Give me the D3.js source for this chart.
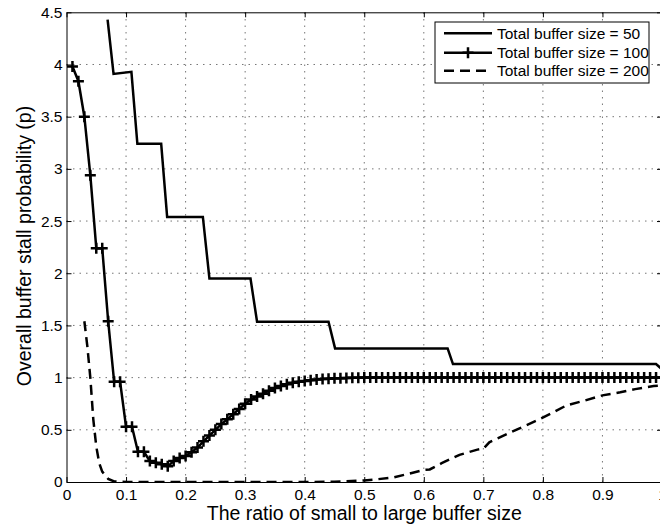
<!DOCTYPE html>
<html>
<head>
<meta charset="utf-8">
<script src="https://cdn.jsdelivr.net/npm/d3@7"></script>
<style>
body { margin: 0; background: #fff; }
svg text { font-family: "Liberation Sans", Arial, Helvetica, sans-serif; fill: #000; }
.grid line { stroke: #777; stroke-width: 1; stroke-dasharray: 1.5,5; }
.axis path, .axis line { stroke: #000; stroke-width: 1; }
</style>
</head>
<body>
<svg id="chart" width="660" height="527"></svg>
<script>
// Ticks
var xTicks = [0, 0.1, 0.2, 0.3, 0.4, 0.5, 0.6, 0.7, 0.8, 0.9, 1];
var xTickLabels = ["0", "0.1", "0.2", "0.3", "0.4", "0.5", "0.6", "0.7", "0.8", "0.9", "1"];
var yTicks = [0, 0.5, 1, 1.5, 2, 2.5, 3, 3.5, 4, 4.5];
var yTickLabels = ["0", "0.5", "1", "1.5", "2", "2.5", "3", "3.5", "4", "4.5"];

var seriesNames = ["Total buffer size = 50", "Total buffer size = 100", "Total buffer size = 200"];

// Total buffer size = 50 (step curve)
var ratio50 = [0.069, 0.079, 0.109, 0.119, 0.159, 0.169, 0.229, 0.240, 0.309, 0.320, 0.440, 0.451, 0.640, 0.649, 0.990, 1.000];
var stall50 = [4.43, 3.91, 3.93, 3.24, 3.24, 2.54, 2.54, 1.95, 1.95, 1.535, 1.535, 1.28, 1.28, 1.13, 1.13, 1.08];

// Total buffer size = 100 (with + markers)
var ratio100 = [0.01, 0.02, 0.03, 0.04, 0.05, 0.06, 0.07, 0.08, 0.09, 0.10,
  0.11, 0.12, 0.13, 0.14, 0.15, 0.16, 0.17, 0.18, 0.19, 0.20,
  0.21, 0.22, 0.23, 0.24, 0.25, 0.26, 0.27, 0.28, 0.29, 0.30,
  0.31, 0.32, 0.33, 0.34, 0.35, 0.36, 0.37, 0.38, 0.39, 0.40,
  0.41, 0.42, 0.43, 0.44, 0.45, 0.46, 0.47, 0.48, 0.49, 0.50,
  0.51, 0.52, 0.53, 0.54, 0.55, 0.56, 0.57, 0.58, 0.59, 0.60,
  0.61, 0.62, 0.63, 0.64, 0.65, 0.66, 0.67, 0.68, 0.69, 0.70,
  0.71, 0.72, 0.73, 0.74, 0.75, 0.76, 0.77, 0.78, 0.79, 0.80,
  0.81, 0.82, 0.83, 0.84, 0.85, 0.86, 0.87, 0.88, 0.89, 0.90,
  0.91, 0.92, 0.93, 0.94, 0.95, 0.96, 0.97, 0.98, 0.99, 1.00];
var stall100 = [3.98, 3.84, 3.50, 2.94, 2.24, 2.24, 1.54, 0.96, 0.96, 0.53,
  0.53, 0.29, 0.29, 0.20, 0.185, 0.17, 0.15, 0.20, 0.23, 0.25,
  0.285, 0.33, 0.39, 0.445, 0.50, 0.555, 0.60, 0.65, 0.70, 0.75,
  0.79, 0.82, 0.845, 0.875, 0.90, 0.92, 0.937, 0.95, 0.96, 0.968,
  0.975, 0.981, 0.986, 0.99, 0.993, 0.995, 0.997, 0.998, 0.999, 1.0,
  1.0, 1.0, 1.0, 1.0, 1.0, 1.0, 1.0, 1.0, 1.0, 1.0,
  1.0, 1.0, 1.0, 1.0, 1.0, 1.0, 1.0, 1.0, 1.0, 1.0,
  1.0, 1.0, 1.0, 1.0, 1.0, 1.0, 1.0, 1.0, 1.0, 1.0,
  1.0, 1.0, 1.0, 1.0, 1.0, 1.0, 1.0, 1.0, 1.0, 1.0,
  1.0, 1.0, 1.0, 1.0, 1.0, 1.0, 1.0, 1.0, 1.0, 1.0];

// Total buffer size = 200 (dashed)
var ratio200 = [0.030, 0.035, 0.040, 0.045, 0.050, 0.055, 0.060, 0.070, 0.080, 0.100, 0.200, 0.300, 0.400, 0.450,
  0.500, 0.520, 0.550, 0.575, 0.600, 0.610, 0.630, 0.660, 0.690, 0.700, 0.710, 0.740, 0.765, 0.790,
  0.815, 0.840, 0.870, 0.900, 0.930, 0.955, 0.986, 1.000];
var stall200 = [1.54, 1.30, 1.00, 0.60, 0.34, 0.18, 0.10, 0.03, 0.005, 0, 0, 0, 0, 0.003,
  0.015, 0.025, 0.045, 0.08, 0.115, 0.12, 0.18, 0.26, 0.31, 0.32, 0.38, 0.46, 0.525, 0.59,
  0.66, 0.735, 0.78, 0.83, 0.86, 0.89, 0.92, 0.925];

var svg = d3.select("#chart");
var width = 660, height = 527;

svg.append("rect").attr("width", width).attr("height", height).style("fill", "#fff");

// Scales
var xscale = d3.scaleLinear().domain([0, 1]).range([66.5, 662]);
var yscale = d3.scaleLinear().domain([0, 4.5]).range([482, 12.3]);

// Grid
var grid = svg.append("g").classed("grid", true);
grid.selectAll("line.v")
  .data(xTicks.slice(1, -1))
  .enter().append("line")
  .attr("x1", function (d) { return xscale(d); })
  .attr("x2", function (d) { return xscale(d); })
  .attr("y1", yscale(0))
  .attr("y2", yscale(4.5));
grid.selectAll("line.h")
  .data(yTicks.slice(1, -1))
  .enter().append("line")
  .attr("y1", function (d) { return yscale(d); })
  .attr("y2", function (d) { return yscale(d); })
  .attr("x1", xscale(0))
  .attr("x2", xscale(1));

svg.append("clipPath").attr("id", "plotclip")
  .append("rect")
  .attr("x", xscale(0)).attr("y", yscale(4.5))
  .attr("width", xscale(1) - xscale(0) + 10)
  .attr("height", yscale(0) - yscale(4.5));

var plot = svg.append("g").attr("clip-path", "url(#plotclip)");

function makeLine(xs, ys) {
  return d3.line()
    .x(function (d, i) { return xscale(xs[i]); })
    .y(function (d, i) { return yscale(ys[i]); })(xs);
}

// Size 200, dashed
plot.append("path")
  .attr("d", makeLine(ratio200, stall200))
  .style("fill", "none").style("stroke", "#000")
  .style("stroke-width", 2.5).style("stroke-dasharray", "10,6");

// Size 50
plot.append("path")
  .attr("d", makeLine(ratio50, stall50))
  .style("fill", "none").style("stroke", "#000")
  .style("stroke-width", 2.5).style("stroke-linejoin", "miter");

// Size 100 with + markers
plot.append("path")
  .attr("d", makeLine(ratio100, stall100))
  .style("fill", "none").style("stroke", "#000")
  .style("stroke-width", 2.5);

function plusPath(s) {
  return "M" + (-s) + ",0H" + s + "M0," + (-s) + "V" + s;
}
plot.append("g").selectAll("path")
  .data(ratio100)
  .enter().append("path")
  .attr("transform", function (d, i) { return "translate(" + xscale(d) + "," + yscale(stall100[i]) + ")"; })
  .attr("d", plusPath(5.5))
  .style("fill", "none").style("stroke", "#000").style("stroke-width", 2.5);

// Axes
svg.append("g")
  .classed("axis", true)
  .attr("transform", "translate(0," + yscale(0) + ")")
  .call(d3.axisBottom(xscale).tickValues(xTicks).tickSize(-5).tickSizeOuter(0).tickPadding(7)
    .tickFormat(function (d, i) { return xTickLabels[i]; }))
  .call(function (g) { g.selectAll("text").style("font-size", "15.5px"); });
svg.append("g")
  .classed("axis", true)
  .attr("transform", "translate(0," + yscale(4.5) + ")")
  .call(d3.axisTop(xscale).tickValues(xTicks).tickSize(-5).tickSizeOuter(0).tickFormat(""));
svg.append("g")
  .classed("axis", true)
  .attr("transform", "translate(" + xscale(0) + ",0)")
  .call(d3.axisLeft(yscale).tickValues(yTicks).tickSize(-5).tickSizeOuter(0).tickPadding(4)
    .tickFormat(function (d, i) { return yTickLabels[i]; }))
  .call(function (g) { g.selectAll("text").style("font-size", "15.5px"); });
svg.append("g")
  .classed("axis", true)
  .attr("transform", "translate(" + xscale(1) + ",0)")
  .call(d3.axisRight(yscale).tickValues(yTicks).tickSize(-5).tickSizeOuter(0).tickFormat(""));
svg.selectAll(".axis text").style("font-family", "'Liberation Sans', Arial, sans-serif");

// Axis titles
svg.append("text")
  .attr("x", (xscale(0) + xscale(1)) / 2)
  .attr("y", 520)
  .attr("text-anchor", "middle")
  .style("font-size", "19.5px")
  .text("The ratio of small to large buffer size");
svg.append("text")
  .attr("transform", "rotate(-90)")
  .attr("x", -246)
  .attr("y", 30.5)
  .attr("text-anchor", "middle")
  .style("font-size", "19.5px")
  .text("Overall buffer stall probability (p)");

// Legend
var legend = svg.append("g").attr("transform", "translate(435,22)");
legend.append("rect")
  .attr("width", 214).attr("height", 61)
  .style("fill", "#fff").style("stroke", "#000").style("stroke-width", 1);
var rowY = [11.3, 30.7, 48.7];
var dashes = [null, null, "10,6"];
seriesNames.forEach(function (name, i) {
  legend.append("line")
    .attr("x1", 9).attr("x2", 57)
    .attr("y1", rowY[i]).attr("y2", rowY[i])
    .style("stroke", "#000").style("stroke-width", 2.5)
    .style("stroke-dasharray", dashes[i]);
  if (i == 1) {
    legend.append("path")
      .attr("transform", "translate(33," + rowY[i] + ")")
      .attr("d", plusPath(5.5))
      .style("fill", "none").style("stroke", "#000").style("stroke-width", 2.5);
  }
  legend.append("text")
    .attr("x", 62).attr("y", rowY[i])
    .attr("dy", "0.36em")
    .style("font-size", "15.5px")
    .text(name);
});
</script>
</body>
</html>
